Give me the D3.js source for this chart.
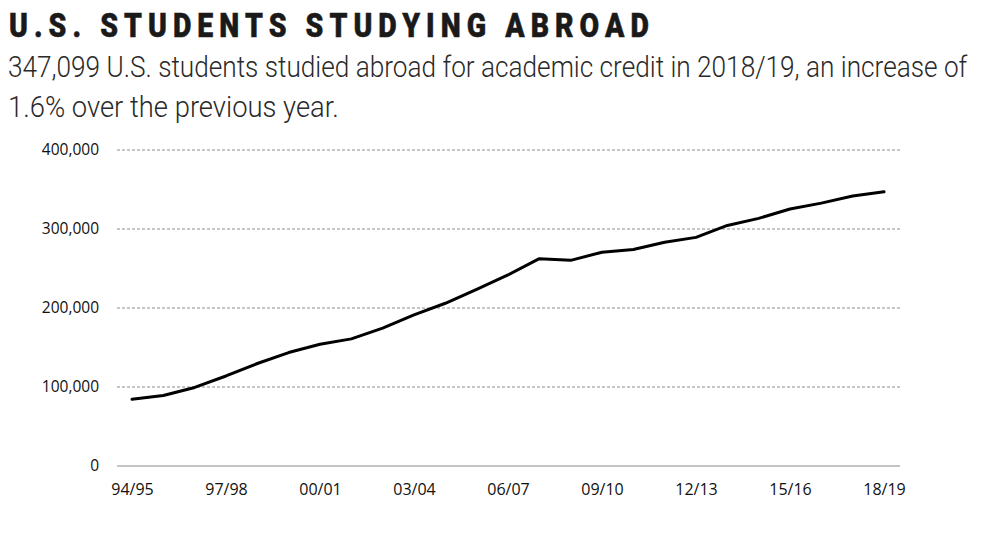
<!DOCTYPE html>
<html><head><meta charset="utf-8">
<script src="https://cdn.jsdelivr.net/npm/d3@7"></script>
<style>
html,body{margin:0;padding:0;background:#fff;}
svg{display:block;}
</style></head>
<body>
<svg id="chart" width="1000" height="534"></svg>
<script>
const title = "U.S. STUDENTS STUDYING ABROAD";
const subtitleLines = [
  "347,099 U.S. students studied abroad for academic credit in 2018/19, an increase of",
  "1.6% over the previous year."
];
const years = ["94/95","95/96","96/97","97/98","98/99","99/00","00/01","01/02","02/03","03/04","04/05","05/06","06/07","07/08","08/09","09/10","10/11","11/12","12/13","13/14","14/15","15/16","16/17","17/18","18/19"];
const students = [84403,89242,99448,113959,129770,143590,154168,160920,174629,191321,205983,223534,241791,262416,260327,270604,273996,283332,289408,304467,313415,325339,332727,341751,347099];
const xTickLabels = ["94/95","97/98","00/01","03/04","06/07","09/10","12/13","15/16","18/19"];
const yTicks = [0,100000,200000,300000,400000];

const svg = d3.select("#chart");

// fit a text to a target width by horizontal scaling
function fitText(g, target){
  const t = g.select("text").node();
  const w = t.getComputedTextLength();
  const s = target / w;
  const tr = g.attr("data-tr");
  g.attr("transform", `${tr} scale(${s},1)`);
}

// title: condensed bold with wide tracking
const tg = svg.append("g").attr("data-tr","translate(9,37)");
tg.append("text").attr("x",0).attr("y",0)
  .attr("font-family","Roboto,'Liberation Sans',sans-serif")
  .attr("font-weight",900).attr("font-size",33).attr("fill","#1a1a1a")
  .attr("stroke","#1a1a1a").attr("stroke-width",0.5)
  .attr("letter-spacing",7)
  .text(title);
fitText(tg, 646);

const subW = [960, 331];
subtitleLines.forEach((s,i)=>{
  const g = svg.append("g").attr("data-tr",`translate(8,${77+i*40})`);
  g.append("text").attr("x",0).attr("y",0)
    .attr("font-family","Roboto,'Liberation Sans',sans-serif")
    .attr("font-weight",300).attr("font-size",29.5).attr("fill","#2a2a2a")
    .text(s);
  fitText(g, subW[i]);
});

const x = d3.scalePoint().domain(years).range([132,884]);
const y = d3.scaleLinear().domain([0,400000]).range([466,150]);

// gridlines
const grid = svg.append("g");
grid.selectAll("line").data(yTicks.filter(d=>d>0)).join("line")
  .attr("x1",117).attr("x2",900)
  .attr("y1",d=>y(d)).attr("y2",d=>y(d))
  .attr("stroke","#8c8c8c").attr("stroke-width",1).attr("stroke-dasharray","3,2");

// y axis labels
const yAxis = d3.axisLeft(y).tickValues(yTicks).tickSize(0).tickPadding(0)
  .tickFormat(d3.format(","));
const gy = svg.append("g").attr("transform","translate(99,0)").call(yAxis);
gy.select(".domain").remove();
gy.selectAll("text").attr("font-family","'Open Sans','Liberation Sans',sans-serif")
  .attr("font-size",15.5).attr("fill","#111");

// x axis baseline + labels
const xAxis = d3.axisBottom(x).tickValues(xTickLabels).tickSize(0).tickPadding(18);
const gx = svg.append("g").attr("transform",`translate(0,${y(0)})`).call(xAxis);
gx.select(".domain").remove();
gx.selectAll("text").attr("font-family","'Open Sans','Liberation Sans',sans-serif")
  .attr("font-size",16).attr("fill","#111");
svg.append("line").attr("x1",117).attr("x2",900).attr("y1",y(0)).attr("y2",y(0))
  .attr("stroke","#8a8a8a").attr("stroke-width",1);

// line
const line = d3.line().x((d,i)=>x(years[i])).y(d=>y(d));
svg.append("path").datum(students).attr("d",line)
  .attr("fill","none").attr("stroke","#000").attr("stroke-width",3)
  .attr("stroke-linejoin","round").attr("stroke-linecap","round");
</script>
</body></html>
